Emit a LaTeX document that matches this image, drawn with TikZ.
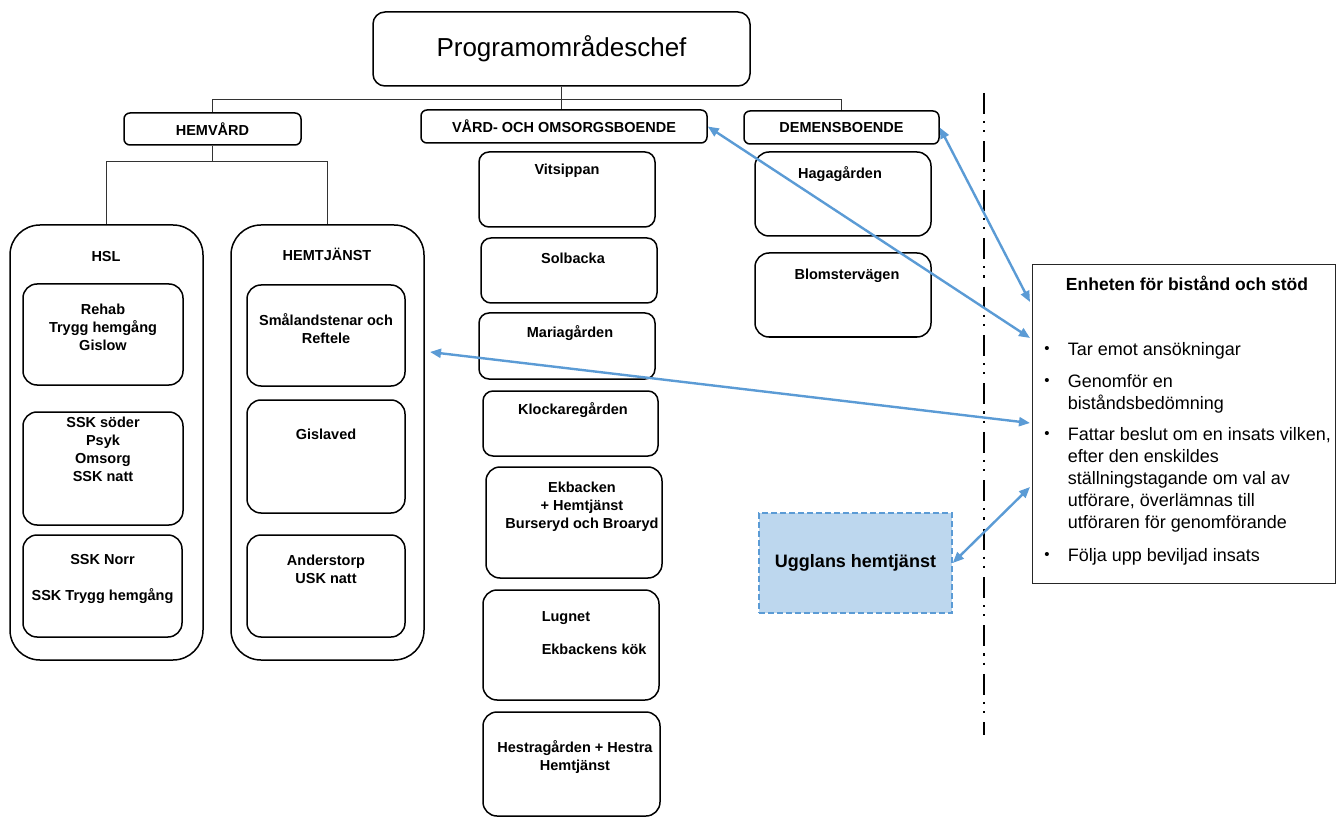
\documentclass[tikz,border=0pt]{standalone}
\usepackage{fontspec}
\setmainfont{Liberation Sans}
\usetikzlibrary{arrows.meta}
\definecolor{linkblue}{HTML}{5B9BD5}
\definecolor{uggfill}{HTML}{BDD7EE}

\begin{document}
\begin{tikzpicture}[x=1pt,y=-1pt,line width=1.5pt,
    box/.style={draw,rounded corners=10pt,inner sep=0pt},
    head/.style={box,rounded corners=6pt,font=\fontsize{14.5}{18}\selectfont\bfseries},
    lbl/.style={anchor=north,align=center,inner sep=0pt,font=\fontsize{14.5}{18}\selectfont\bfseries},
    bul/.style={anchor=north west,align=left,inner sep=0pt,font=\fontsize{18}{22}\selectfont},
    dot/.style={inner sep=0pt,font=\fontsize{15}{15}\selectfont},
    link/.style={linkblue,line width=2.4pt,<->,>={Triangle[length=11pt,width=9pt]}},
    tree/.style={line width=1pt,black!80}]
  \useasboundingbox (0,0) rectangle (1336,818);
      \coordinate (bar) at (0,100);
        \coordinate (fork) at (0,162);
          \coordinate (sepTop) at (984,93);
            \coordinate (sepBot) at (984,735);
              \coordinate (hj) at (430,352);
                \coordinate (E1) at (1030,302);
                  \coordinate (E2) at (1030,338);
                    \coordinate (E3) at (1030,423);
                      \coordinate (E4) at (1030,487);

  \node[box,rounded corners=12pt,minimum width=377,minimum height=74,font=\fontsize{26}{30}\selectfont] (chef) at (561.5,49) {Programområdeschef};
    \node[head,minimum width=177,minimum height=32] (hemvard) at (212.5,129) {HEMVÅRD};
    \node[head,minimum width=286,minimum height=33] (vard) at (564,126.5) {VÅRD- OCH OMSORGSBOENDE};
    \node[head,minimum width=195,minimum height=33] (demens) at (841.5,127.5) {DEMENSBOENDE};

  \node[box,rounded corners=30pt,minimum width=193,minimum height=435] (hsl) at (106.5,442.5) {};
  \node[box,rounded corners=30pt,minimum width=193,minimum height=435] (hemtj) at (327.5,442.5) {};
    \node[lbl,anchor=center] (hslT) at (106,257) {HSL};
    \node[lbl,anchor=center] (hemtjT) at (327,254) {HEMTJÄNST};

  \node[box,rounded corners=14pt,minimum width=160,minimum height=101] (rehab) at (103,334.5) {};
  \node[box,rounded corners=14pt,minimum width=160,minimum height=113] (ssks) at (103,468.5) {};
  \node[box,rounded corners=14pt,minimum width=159,minimum height=102] (sskn) at (102.5,586) {};
    \node[lbl] (rehabT) at (103,303) {Rehab\\Trygg hemgång\\Gislow};
    \node[lbl] (ssksT) at (103,416) {SSK söder\\Psyk\\Omsorg\\SSK natt};
    \node[lbl] (ssknT) at (102.5,554) {SSK Norr\\[18pt]SSK Trygg hemgång};

  \node[box,rounded corners=14pt,minimum width=158,minimum height=101] (smal) at (326,335.5) {};
  \node[box,rounded corners=14pt,minimum width=158,minimum height=113] (gisl) at (326,456.5) {};
  \node[box,rounded corners=14pt,minimum width=158,minimum height=102] (ander) at (326,586) {};
    \node[lbl] (smalT) at (326,313) {Smålandstenar och\\Reftele};
    \node[lbl] (gislT) at (326,428) {Gislaved};
    \node[lbl] (anderT) at (326,554) {Anderstorp\\USK natt};

  \node[box,minimum width=176,minimum height=75] (vits) at (567,189.5) {};
  \node[box,minimum width=176,minimum height=65] (solb) at (569,270.5) {};
  \node[box,minimum width=176,minimum height=66] (maria) at (567,346) {};
  \node[box,minimum width=175,minimum height=65] (klock) at (570.5,423.5) {};
  \node[box,rounded corners=14pt,minimum width=176,minimum height=111] (ekb) at (574,522.5) {};
  \node[box,rounded corners=14pt,minimum width=176,minimum height=110] (lugn) at (571,645) {};
  \node[box,rounded corners=14pt,minimum width=177,minimum height=104] (hestra) at (571.5,764) {};
    \node[lbl] (vitsT) at (567,163) {Vitsippan};
    \node[lbl] (solbT) at (573,252) {Solbacka};
    \node[lbl] (mariaT) at (570,325) {Mariagården};
    \node[lbl] (klockT) at (573,402) {Klockaregården};
    \node[lbl] (ekbT) at (582,481) {Ekbacken\\+ Hemtjänst\\Burseryd och Broaryd};
    \node[lbl,anchor=north west,align=left] (lugnT) at (541,611) {Lugnet\\[15pt]Ekbackens kök};
    \node[lbl] (hestraT) at (575,740) {Hestragården + Hestra\\Hemtjänst};

  \node[box,rounded corners=14pt,minimum width=176,minimum height=84] (haga) at (843,194) {};
  \node[box,rounded corners=14pt,minimum width=176,minimum height=84] (blom) at (843,295) {};
    \node[lbl] (hagaT) at (840,166) {Hagagården};
    \node[lbl] (blomT) at (847,268) {Blomstervägen};

  \node[draw=linkblue,dash pattern=on 6pt off 3pt,fill=uggfill,minimum width=193,minimum height=100,inner sep=0pt,
        font=\fontsize{18}{22}\selectfont\bfseries] (uggl) at (855.5,563) {Ugglans hemtjänst};

  \node[draw=black!85,line width=1pt,minimum width=303,minimum height=318,inner sep=0pt] (enhet) at (1183.5,424) {};
    \node[inner sep=0pt,font=\fontsize{17.5}{20}\selectfont\bfseries] (enhetT) at (1187,283) {Enheten för bistånd och stöd};
    \node[dot] (d1) at (1047,350) {•};
    \node[dot] (d2) at (1047,382) {•};
    \node[dot] (d3) at (1047,435) {•};
    \node[dot] (d4) at (1047,556) {•};
    \node[bul] (b1) at (1067,341.4) {Tar emot ansökningar};
    \node[bul] (b2) at (1067,373.4) {Genomför en\\biståndsbedömning};
    \node[bul] (b3) at (1067,426.4) {Fattar beslut om en insats vilken,\\efter den enskildes\\ställningstagande om val av\\utförare, överlämnas till\\utföraren för genomförande};
    \node[bul] (b4) at (1067,547.4) {Följa upp beviljad insats};

  \draw[tree] (chef.south)--(chef.south |- vard.north);
  \draw[tree] (hemvard.north) |- (demens.north |- bar)--(demens.north);
  \draw[tree] (hemvard.south)--(hemvard.south |- fork);
  \draw[tree] (hsl.north) |- (hemtj.north |- fork)--(hemtj.north);

  \draw[line width=2.2pt,dash pattern=on 21pt off 7pt on 2.2pt off 7pt on 2.2pt off 9pt] (sepTop)--(sepBot);

  \draw[link] (demens.east)--(E1);
  \draw[link] (vard.east)--(E2);
  \draw[link] (hj)--(E3);
  \draw[link] (uggl.east)--(E4);
\end{tikzpicture}
\end{document}
